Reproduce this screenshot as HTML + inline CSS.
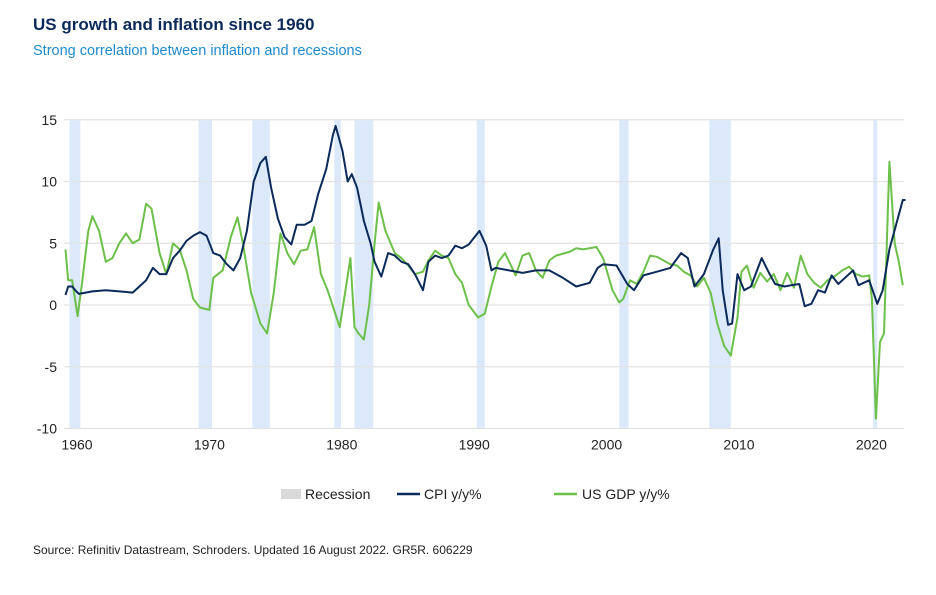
<!DOCTYPE html>
<html><head><meta charset="utf-8"><style>
body{margin:0;background:#fff;font-family:"Liberation Sans",sans-serif;}
</style></head><body>
<svg width="936" height="590" viewBox="0 0 936 590" xmlns="http://www.w3.org/2000/svg">
<text x="33" y="30" font-size="17" font-weight="bold" fill="#0b2a5a" font-family="Liberation Sans, sans-serif">US growth and inflation since 1960</text>
<text x="33" y="55" font-size="14.5" fill="#1f8ad0" font-family="Liberation Sans, sans-serif">Strong correlation between inflation and recessions</text>
<g id="rec"></g>
<g id="grid"></g>
<g id="series"></g>
<g id="axes"></g>
<g font-size="14" fill="#222">
<rect x="281" y="489" width="20" height="10" fill="#d9d9d9"/>
<text x="305" y="499">Recession</text>
<line x1="397" y1="494" x2="420" y2="494" stroke="#0b2a5a" stroke-width="2.5"/>
<text x="424" y="499">CPI y/y%</text>
<line x1="554" y1="494" x2="577" y2="494" stroke="#6cc04a" stroke-width="2.5"/>
<text x="582" y="499">US GDP y/y%</text>
</g>
<text x="33" y="554" font-size="12" fill="#222">Source: Refinitiv Datastream, Schroders. Updated 16 August 2022. GR5R. 606229</text>
</svg>
<script>
const yTicks=[15,10,5,0,-5,-10];
const xTicks=[1960,1970,1980,1990,2000,2010,2020];
const recStart=[1960.3,1969.9,1973.9,1980.0,1981.5,1990.6,2001.2,2007.9,2020.1];
const recEnd=[1961.1,1970.9,1975.2,1980.5,1982.9,1991.2,2001.9,2009.5,2020.4];
const cpiX=[1960,1960.2,1960.5,1960.8,1961,1962,1963,1964,1965,1965.5,1966,1966.5,1967,1967.5,1968,1968.5,1969,1969.5,1970,1970.5,1971,1971.5,1972,1972.5,1973,1973.5,1974,1974.5,1974.9,1975.3,1975.8,1976.3,1976.8,1977.2,1977.8,1978.3,1978.8,1979.4,1979.9,1980.1,1980.6,1981,1981.3,1981.7,1982.2,1982.7,1983,1983.5,1984,1984.5,1985,1985.5,1986,1986.6,1987,1987.5,1988,1988.5,1989,1989.5,1990,1990.8,1991.3,1991.7,1992,1993,1994,1995,1996,1997,1998,1999,1999.6,2000,2001,2001.8,2002.3,2003,2004,2005,2005.8,2006.3,2006.8,2007.5,2008.2,2008.6,2008.9,2009.3,2009.6,2010,2010.5,2011,2011.8,2012.3,2012.8,2013.5,2014,2014.6,2015,2015.5,2016,2016.5,2017,2017.5,2018,2018.6,2019,2019.8,2020.4,2020.8,2021.3,2021.8,2022.3,2022.5];
const cpiV=[0.8,1.5,1.5,1.1,0.9,1.1,1.2,1.1,1.0,1.5,2.0,3.0,2.5,2.5,3.8,4.4,5.2,5.6,5.9,5.6,4.2,4.0,3.3,2.8,3.8,6.0,10.0,11.5,12.0,9.5,7.0,5.5,4.9,6.5,6.5,6.8,9.0,11.0,13.8,14.5,12.5,10,10.6,9.5,6.8,5,3.5,2.3,4.2,4.0,3.5,3.3,2.5,1.2,3.5,4.0,3.8,4.0,4.8,4.6,4.9,6.0,4.8,2.8,3.0,2.8,2.6,2.8,2.8,2.2,1.5,1.8,3.0,3.3,3.2,1.7,1.2,2.4,2.7,3.0,4.2,3.8,1.5,2.5,4.5,5.4,1.2,-1.6,-1.5,2.5,1.2,1.5,3.8,2.7,1.7,1.5,1.6,1.7,-0.1,0.1,1.2,1.0,2.4,1.7,2.2,2.8,1.6,2.0,0.1,1.2,4.5,6.5,8.5,8.5];
const gdpX=[1960,1960.2,1960.5,1960.9,1961.2,1961.7,1962,1962.5,1963,1963.5,1964,1964.5,1965,1965.5,1966,1966.4,1967,1967.5,1968,1968.5,1969,1969.5,1970,1970.7,1971,1971.7,1972.3,1972.8,1973.2,1973.8,1974.5,1975,1975.5,1976,1976.5,1977,1977.5,1978,1978.5,1979,1979.5,1980.4,1980.8,1981.2,1981.5,1981.8,1982.2,1982.6,1983,1983.3,1983.8,1984.5,1985,1985.5,1986,1986.6,1987,1987.5,1988,1988.5,1989,1989.5,1990,1990.7,1991.2,1991.7,1992.2,1992.7,1993.5,1994,1994.5,1995,1995.5,1996,1996.5,1997.5,1998,1998.5,1999,1999.5,2000,2000.7,2001.2,2001.5,2002,2002.5,2003,2003.5,2004,2004.5,2005,2005.5,2006,2006.5,2007,2007.5,2008,2008.5,2009,2009.5,2010,2010.3,2010.7,2011.2,2011.7,2012.2,2012.7,2013.2,2013.7,2014.2,2014.7,2015.2,2015.7,2016.2,2016.7,2017.2,2017.8,2018.3,2018.8,2019.3,2019.8,2020.0,2020.3,2020.6,2020.9,2021.3,2021.7,2022.0,2022.3];
const gdpV=[4.5,2,2,-0.9,1.5,6,7.2,6,3.5,3.8,5,5.8,5.0,5.3,8.2,7.8,4.2,2.5,5,4.5,2.8,0.5,-0.2,-0.4,2.2,2.8,5.5,7.1,5,1.0,-1.5,-2.3,1,5.8,4.2,3.3,4.4,4.5,6.3,2.5,1.2,-1.8,1,3.8,-1.8,-2.3,-2.8,0,5,8.3,6,4.2,3.8,3.2,2.5,2.7,3.6,4.4,4.0,3.8,2.5,1.8,0,-1.0,-0.7,1.5,3.5,4.2,2.4,4.0,4.2,2.8,2.2,3.6,4.0,4.3,4.6,4.5,4.6,4.7,3.8,1.2,0.2,0.5,2.0,1.7,2.7,4.0,3.9,3.6,3.3,3.2,2.7,2.4,1.5,2.2,1.0,-1.5,-3.3,-4.1,-1.0,2.7,3.2,1.4,2.6,1.9,2.5,1.2,2.6,1.4,4.0,2.5,1.8,1.4,2.0,2.3,2.8,3.1,2.5,2.3,2.4,0.5,-9.2,-3,-2.3,11.6,5,3.5,1.6];
const NS="http://www.w3.org/2000/svg";
const X=y=>65.5+(y-1960)*13.44;
const LX=y=>X(y)+11.5-(y-1960)*0.2;
const Y=v=>305-v*12.35;
const rec=document.getElementById('rec'),grid=document.getElementById('grid'),ser=document.getElementById('series'),ax=document.getElementById('axes');
recStart.forEach((s,i)=>{
 const r=document.createElementNS(NS,'rect');
 r.setAttribute('x',X(s));r.setAttribute('y',Y(15));
 r.setAttribute('width',X(recEnd[i])-X(s));r.setAttribute('height',Y(-10)-Y(15));
 r.setAttribute('fill','#dbe9fb');
 
 
 rec.appendChild(r);
});
yTicks.forEach(v=>{
 const l=document.createElementNS(NS,'line');
 l.setAttribute('x1',64);l.setAttribute('x2',904);l.setAttribute('y1',Y(v));l.setAttribute('y2',Y(v));
 l.setAttribute('stroke','#e3e3e3');l.setAttribute('stroke-width','1.2');
 
 
 grid.appendChild(l);
 const t=document.createElementNS(NS,'text');
 t.setAttribute('x',57);t.setAttribute('y',Y(v)+5);t.setAttribute('text-anchor','end');
 t.setAttribute('font-size','14');t.setAttribute('fill','#222');
 t.textContent=v;
 
 
 ax.appendChild(t);
});
xTicks.forEach(y=>{
 const t=document.createElementNS(NS,'text');
 t.setAttribute('x',LX(y));t.setAttribute('y',Y(-10)+21);t.setAttribute('text-anchor','middle');
 t.setAttribute('font-size','14');t.setAttribute('fill','#222');
 t.textContent=y;
 
 
 ax.appendChild(t);
});
function line(xs,vs,c,name){
 const p=document.createElementNS(NS,'polyline');
 p.setAttribute('points',xs.map((x,i)=>X(x).toFixed(1)+','+Y(vs[i]).toFixed(1)).join(' '));
 p.setAttribute('fill','none');p.setAttribute('stroke',c);p.setAttribute('stroke-width','2');p.setAttribute('stroke-linejoin','round');
 
 
 ser.appendChild(p);
}
line(gdpX,gdpV,'#6cc04a','gdp-line');
line(cpiX,cpiV,'#0b2a5a','cpi-line');
</script>
</body></html>
